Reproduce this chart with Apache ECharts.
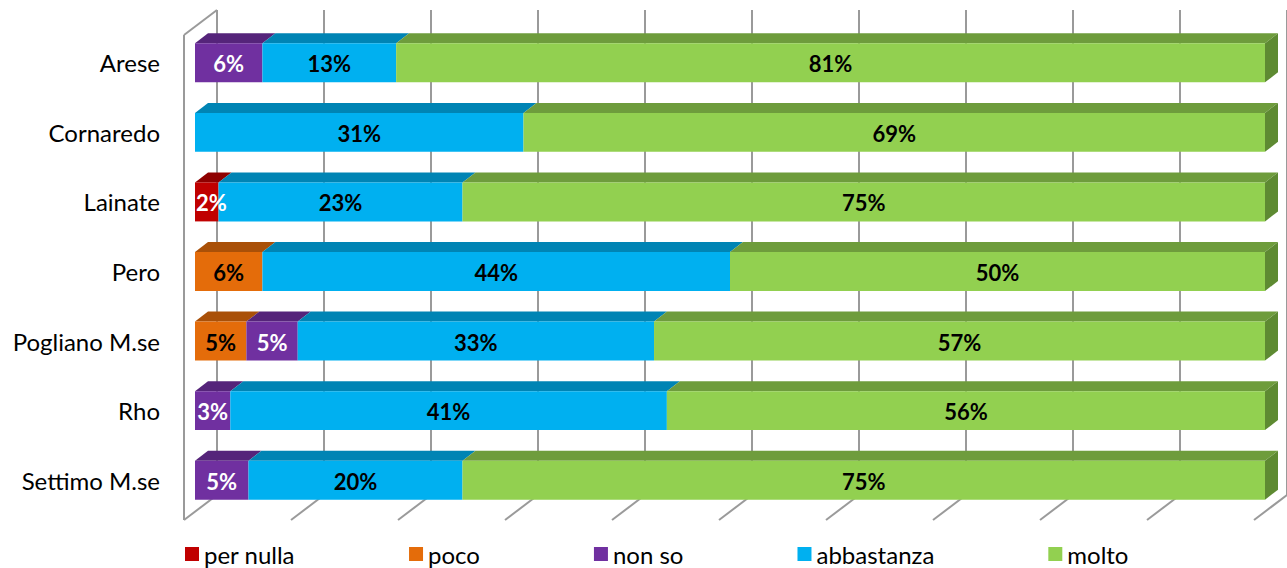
<!DOCTYPE html>
<html>
<head>
<meta charset="utf-8">
<script src="https://cdn.jsdelivr.net/npm/echarts@6/dist/echarts.min.js"></script>
<style>
  html, body { margin: 0; padding: 0; background: #fff; }
  #main { width: 1287px; height: 568px; }
</style>
</head>
<body>
<div id="main"></div>
<script>
var categories = ['Arese', 'Cornaredo', 'Lainate', 'Pero', 'Pogliano M.se', 'Rho', 'Settimo M.se'];
var perNulla   = [0, 0, 2.2, 0, 0, 0, 0];
var poco       = [0, 0, 0, 6.3, 4.8, 0, 0];
var nonSo      = [6.3, 0, 0, 0, 4.8, 3.3, 5.0];
var abbastanza = [12.5, 30.7, 22.8, 43.7, 33.3, 40.8, 20.0];
var molto      = [81.2, 69.3, 75.0, 50.0, 57.1, 55.9, 75.0];
var gridTicks  = [0, 10, 20, 30, 40, 50, 60, 70, 80, 90, 100];

var seriesNames  = ['per nulla', 'poco', 'non so', 'abbastanza', 'molto'];
var seriesValues = [perNulla, poco, nonSo, abbastanza, molto];
var frontColors  = ['#C00000', '#E46C0A', '#7030A0', '#00B0F0', '#92D050'];
var topColors    = ['#8E0000', '#A95008', '#55247A', '#0084B4', '#6E9C3C'];
var sideColor    = '#5E8A32';
var labelColors  = ['#fff', '#000', '#fff', '#000', '#000'];

// depth of the bars (pseudo 3d)
var DX = 13, DY = -10;
var FONT = 'Lato';

function buildRows(k) {
    return categories.map(function (c, i) {
        var start = 0;
        for (var j = 0; j < k; j++) start += seriesValues[j][i];
        return [start, start + seriesValues[k][i], i, seriesValues[k][i]];
    });
}

function barRender(k) {
    return function (params, api) {
        var v = api.value(3);
        if (!v) return;
        var p0 = api.coord([api.value(0), api.value(2)]);
        var p1 = api.coord([api.value(1), api.value(2)]);
        var h = api.size([0, 1])[1] * 0.56;
        var x0 = p0[0], x1 = p1[0], yT = p0[1] - h / 2, yB = p0[1] + h / 2;
        var children = [
            { type: 'polygon', shape: { points: [[x0, yT], [x0 + DX, yT + DY], [x1 + DX, yT + DY], [x1, yT]] },
              style: { fill: topColors[k] } },
            { type: 'rect', shape: { x: x0, y: yT, width: x1 - x0, height: yB - yT },
              style: { fill: frontColors[k] } }
        ];
        if (k === seriesValues.length - 1) {
            children.push({ type: 'polygon',
                shape: { points: [[x1, yT], [x1 + DX, yT + DY], [x1 + DX, yB + DY], [x1, yB]] },
                style: { fill: sideColor } });
        }
        // narrow segment: label starts at the segment's left edge and overflows
        var narrow = (x1 - x0) < 30;
        children.push({ type: 'text', z2: 100, style: {
            text: Math.round(v) + '%', x: narrow ? x0 + 1 : (x0 + x1) / 2, y: p0[1] + 1,
            align: narrow ? 'left' : 'center', verticalAlign: 'middle', fill: labelColors[k],
            fontSize: 22, fontWeight: 'bold', fontFamily: FONT } });
        return { type: 'group', children: children };
    };
}

function wallRender(params, api) {
    var cs = params.coordSys;
    var x = api.coord([api.value(0), 0])[0];
    var top = cs.y - 18, back = cs.y + cs.height - 20, front = cs.y + cs.height + 5;
    var st = { stroke: '#9A9A9A', lineWidth: 2 };
    var children = [
        { type: 'line', shape: { x1: x + 22, y1: top, x2: x + 22, y2: back }, style: st },
        { type: 'line', shape: { x1: x - 11, y1: front, x2: x + 22, y2: back }, style: st }
    ];
    if (api.value(0) === 0) {
        children.push({ type: 'line', shape: { x1: x - 11, y1: top + 25, x2: x - 11, y2: front }, style: st });
        children.push({ type: 'line', shape: { x1: x - 11, y1: top + 25, x2: x + 22, y2: top }, style: st });
    }
    return { type: 'group', children: children };
}

var myChart = echarts.init(document.getElementById('main'), null, { renderer: 'svg' });

var series = [{
    name: 'walls',
    type: 'custom',
    z: 1,
    silent: true,
    renderItem: wallRender,
    data: gridTicks.map(function (t) { return [t, 0]; }),
    encode: { x: 0, y: 1 }
}];
seriesNames.forEach(function (name, k) {
    series.push({
        name: name,
        type: 'custom',
        z: 2,
        renderItem: barRender(k),
        itemStyle: { color: frontColors[k] },
        data: buildRows(k),
        encode: { x: [0, 1], y: 2 }
    });
});

var option = {
    animation: false,
    backgroundColor: '#fff',
    grid: { left: 195, right: 22, top: 28, bottom: 53 },
    xAxis: { type: 'value', min: 0, max: 100, show: false },
    yAxis: {
        type: 'category',
        inverse: true,
        data: categories,
        axisLine: { show: false },
        axisTick: { show: false },
        splitLine: { show: false },
        axisLabel: { margin: 35, fontSize: 24, color: '#000', fontFamily: FONT }
    },
    legend: {
        data: seriesNames,
        left: 180,
        top: 537,
        itemGap: 114,
        itemWidth: 14,
        itemHeight: 14,
        icon: 'rect',
        textStyle: { fontSize: 24, color: '#000', fontFamily: FONT }
    },
    series: series
};

myChart.setOption(option);
</script>
</body>
</html>
